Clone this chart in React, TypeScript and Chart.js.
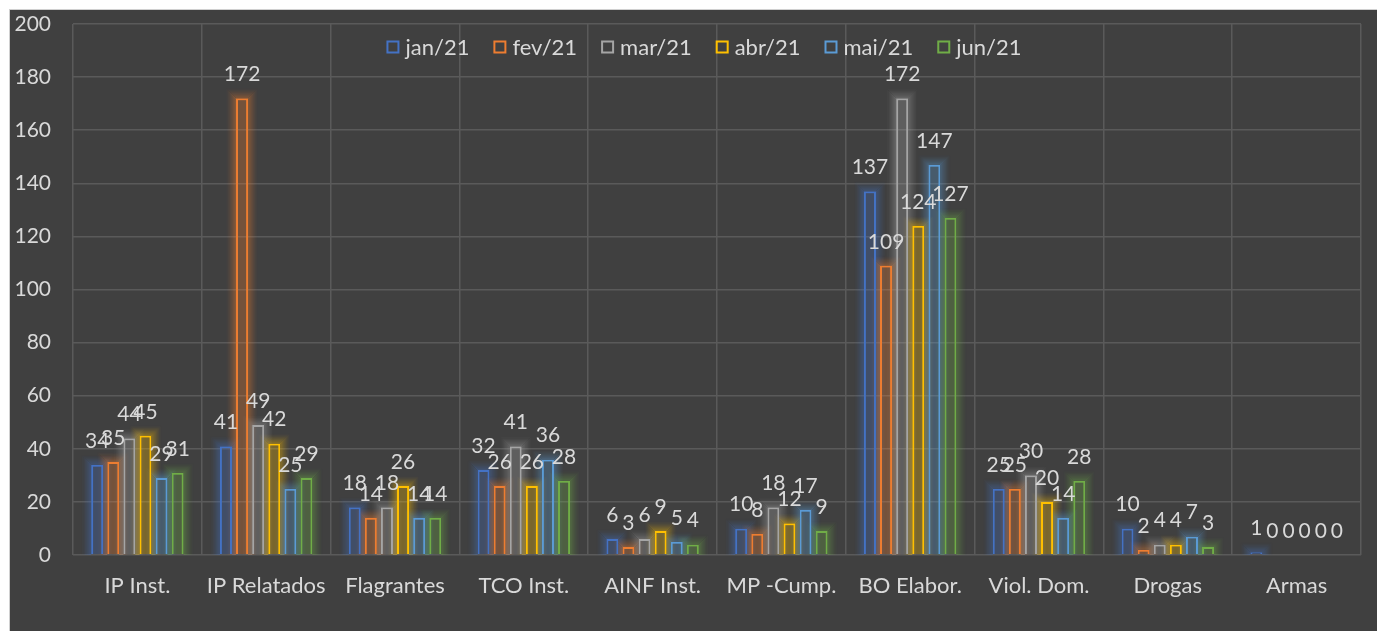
import React, { useEffect, useRef } from 'react';
import { Chart, registerables } from 'chart.js';

Chart.register(...registerables);

const categories = ['IP Inst.', 'IP Relatados', 'Flagrantes', 'TCO Inst.', 'AINF Inst.', 'MP -Cump.', 'BO Elabor.', 'Viol. Dom.', 'Drogas', 'Armas'];
const seriesLabels = ['jan/21', 'fev/21', 'mar/21', 'abr/21', 'mai/21', 'jun/21'];
const jan21 = [34, 41, 18, 32, 6, 10, 137, 25, 10, 1];
const fev21 = [35, 172, 14, 26, 3, 8, 109, 25, 2, 0];
const mar21 = [44, 49, 18, 41, 6, 18, 172, 30, 4, 0];
const abr21 = [45, 42, 26, 26, 9, 12, 124, 20, 4, 0];
const mai21 = [29, 25, 14, 36, 5, 17, 147, 14, 7, 0];
const jun21 = [31, 29, 14, 28, 4, 9, 127, 28, 3, 0];
const seriesValues = [jan21, fev21, mar21, abr21, mai21, jun21];
const seriesColors = ['#4472C4', '#ED7D31', '#A5A5A5', '#FFC000', '#5B9BD5', '#70AD47'];
const yTicks = [0, 20, 40, 60, 80, 100, 120, 140, 160, 180, 200];

const FONT = 'Lato, "Open Sans", sans-serif';
const NUM_SIZE = 21;
const CAT_SIZE = 22;
const TEXT = '#d9d9d9';
const GRID = '#5a5a5a';
const W = 1367;
const H = 621;

function rgba(hex: string, a: number) {
  const n = parseInt(hex.slice(1), 16);
  return `rgba(${(n >> 16) & 255},${(n >> 8) & 255},${n & 255},${a})`;
}

const glowPlugin = {
  id: 'glow',
  beforeDatasetsDraw(chart: any) {
    const ctx = chart.ctx;
    const yScale = chart.scales.y;
    const base = yScale.getPixelForValue(0);
    const steps = 10;
    chart.data.datasets.forEach((ds: any, i: number) => {
      const meta = chart.getDatasetMeta(i);
      meta.data.forEach((el: any, j: number) => {
        const v = ds.data[j];
        if (!(v > 0)) return;
        const x = el.x;
        const y = yScale.getPixelForValue(v);
        const w = typeof el.width === 'number' ? el.width : 12;
        const left = x - w / 2;
        ctx.save();
        ctx.lineWidth = 1;
        for (let k = 1; k <= steps; k++) {
          const a = 0.45 * Math.pow(1 - k / (steps + 1), 1.5);
          ctx.strokeStyle = rgba(seriesColors[i], a);
          ctx.beginPath();
          ctx.moveTo(left - k + 0.5, base);
          ctx.lineTo(left - k + 0.5, y - k + 0.5);
          ctx.lineTo(left + w + k - 0.5, y - k + 0.5);
          ctx.lineTo(left + w + k - 0.5, base);
          ctx.stroke();
        }
        ctx.restore();
      });
    });
  },
};

const labelPlugin = {
  id: 'valueLabels',
  afterDatasetsDraw(chart: any) {
    const ctx = chart.ctx;
    ctx.save();
    ctx.font = `${NUM_SIZE}px ${FONT}`;
    ctx.fillStyle = TEXT;
    ctx.textAlign = 'center';
    ctx.textBaseline = 'alphabetic';
    chart.data.datasets.forEach((ds: any, i: number) => {
      const meta = chart.getDatasetMeta(i);
      meta.data.forEach((el: any, j: number) => {
        ctx.fillText(String(ds.data[j]), el.x, el.y - 17);
      });
    });
    ctx.restore();
  },
};

const legendPlugin = {
  id: 'insideLegend',
  afterDraw(chart: any) {
    const ctx = chart.ctx;
    const area = chart.chartArea;
    ctx.save();
    ctx.font = `${CAT_SIZE}px ${FONT}`;
    const box = 13;
    const gapText = 6;
    const gapItem = 24;
    const widths = seriesLabels.map((l) => ctx.measureText(l).width);
    const total = widths.reduce((s, w) => s + box + gapText + w, 0) + gapItem * (seriesLabels.length - 1);
    let x = (area.left + area.right) / 2 - 13 - total / 2;
    const cy = area.top + 23;
    seriesLabels.forEach((l, i) => {
      ctx.strokeStyle = seriesColors[i];
      ctx.lineWidth = 2;
      ctx.strokeRect(x + 1, cy - box / 2 + 1, box - 2, box - 2);
      ctx.fillStyle = TEXT;
      ctx.textAlign = 'left';
      ctx.textBaseline = 'middle';
      ctx.fillText(l, x + box + gapText, cy + 1);
      x += box + gapText + widths[i] + gapItem;
    });
    ctx.restore();
  },
};

export default function App() {
  const ref = useRef<HTMLCanvasElement | null>(null);

  useEffect(() => {
    if (!ref.current) return;
    const chart = new Chart(ref.current, {
      type: 'bar',
      data: {
        labels: categories,
        datasets: seriesValues.map((vals, i) => ({
          label: seriesLabels[i],
          data: vals,
          backgroundColor: rgba(seriesColors[i], 0.3),
          borderColor: seriesColors[i],
          borderWidth: 2,
          barPercentage: 0.75,
          categoryPercentage: 0.75,
        })),
      },
      options: {
        animation: false,
        responsive: false,
        maintainAspectRatio: false,
        layout: { padding: { left: 0, right: 16, top: 14, bottom: 0 } },
        plugins: {
          legend: { display: false },
          tooltip: { enabled: false },
        },
        scales: {
          x: {
            afterFit: (axis: any) => {
              axis.height = 76;
              axis.paddingLeft = 0;
              axis.paddingRight = 0;
            },
            grid: { color: GRID, lineWidth: 1.5, drawTicks: false, offset: true },
            border: { display: false },
            ticks: { color: TEXT, font: { family: FONT, size: CAT_SIZE }, padding: 18, maxRotation: 0 },
          },
          y: {
            min: 0,
            max: 200,
            afterBuildTicks: (axis: any) => {
              axis.ticks = yTicks.map((v) => ({ value: v }));
            },
            afterFit: (axis: any) => {
              axis.width = 63;
              axis.paddingTop = 0;
              axis.paddingBottom = 0;
            },
            grid: { color: GRID, lineWidth: 1.5, drawTicks: false },
            border: { display: false },
            ticks: { color: TEXT, font: { family: FONT, size: NUM_SIZE }, padding: 22 },
          },
        },
      },
      plugins: [glowPlugin, labelPlugin, legendPlugin],
    } as any);
    return () => chart.destroy();
  }, []);

  return (
    <div
      style={{
        position: 'fixed',
        left: 9,
        top: 9,
        width: W,
        height: H,
        background: '#404040',
        borderTop: '1px solid #d0d0d0',
        borderLeft: '1px solid #d0d0d0',
      }}
    >
      <canvas ref={ref} width={W} height={H} style={{ display: 'block' }} />
    </div>
  );
}
